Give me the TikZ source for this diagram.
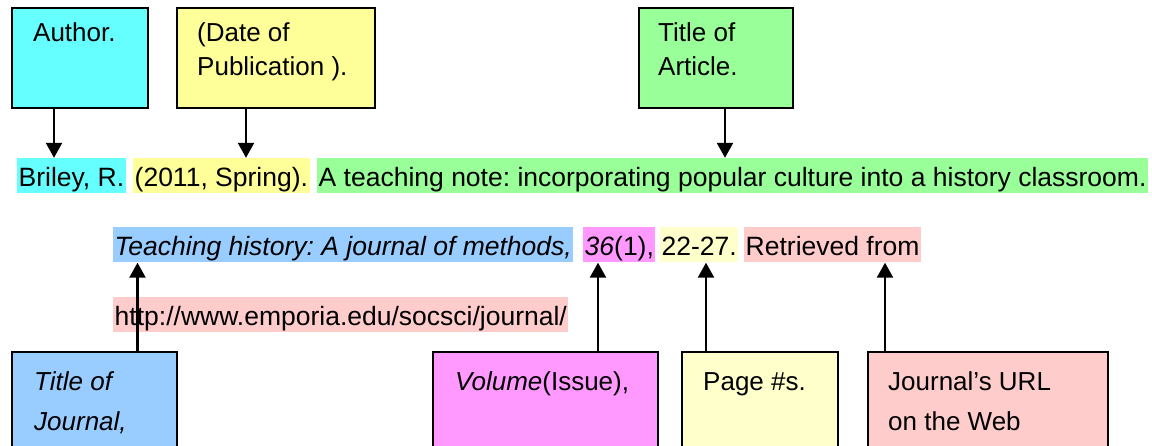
\documentclass[tikz,border=0pt]{standalone}
\usepackage{fontspec}
\setmainfont{Liberation Sans}
\usetikzlibrary{arrows.meta}
\definecolor{cCyan}{HTML}{66FFFF}
\definecolor{cYel}{HTML}{FFFF99}
\definecolor{cGreen}{HTML}{99FF99}
\definecolor{cBlue}{HTML}{99CCFF}
\definecolor{cMag}{HTML}{FF99FF}
\definecolor{cLY}{HTML}{FFFFCC}
\definecolor{cPink}{HTML}{FFCCCC}
\frenchspacing
\begin{document}
\begin{tikzpicture}[x=1pt,y=-1pt,
  box/.style={draw=black, line width=2pt, anchor=north west, inner sep=0},
  lbl/.style={anchor=base west, inner sep=0, align=left, font=\fontsize{26}{34}\selectfont},
  lblb/.style={anchor=base west, inner sep=0, align=left, font=\fontsize{26}{40}\selectfont},
  hl/.style={anchor=base west, inner xsep=1.5pt, inner ysep=0, text height=29pt, text depth=6.5pt, font=\fontsize{26.5}{30}\selectfont},
  arr/.style={line width=2.4pt, -{Triangle[width=16pt,length=15pt]}}]
\useasboundingbox (0,0) rectangle (1152,446);
\clip (0,0) rectangle (1152,446);
% top boxes
\node[box, fill=cCyan, minimum width=136pt, minimum height=100pt] (author) at (11,7) {};
\node[box, fill=cYel, minimum width=198pt, minimum height=100pt] (date) at (176,7) {};
\node[box, fill=cGreen, minimum width=154pt, minimum height=100pt] (title) at (638,7) {};
\node[lbl] (tA) at (33,42) {Author.};
\node[lbl] (tD) at (197,76) {(Date of\\Publication ).};
\node[lbl] (tT) at (658,76) {Title of\\Article.};
% bottom boxes
\node[box, fill=cBlue, minimum width=165pt, minimum height=120pt] (journal) at (11,351) {};
\node[box, fill=cMag, minimum width=225pt, minimum height=120pt] (volume) at (432,351) {};
\node[box, fill=cLY, minimum width=156pt, minimum height=120pt] (page) at (681,351) {};
\node[box, fill=cPink, minimum width=240pt, minimum height=120pt] (url) at (867,351) {};
\node[lblb] (tJ) at (34,431) {\textit{Title of}\\\textit{Journal,}};
\node[lblb] (tV) at (455,391) {\textit{Volume}(Issue),};
\node[lblb] (tP) at (703,391) {Page \#s.};
\node[lblb] (tU) at (888,431) {Journal’s URL\\on the Web};
% row 1
\node[hl, fill=cCyan] (r1a) at (17,187) {Briley, R.};
\node[hl, fill=cYel] (r1b) at (133,187) {(2011, Spring).};
\node[hl, fill=cGreen] (r1c) at (317,187) {A teaching note: incorporating popular culture into a history classroom.};
% row 2
\node[hl, fill=cBlue] (r2a) at (113,256) {\textit{Teaching history: A journal of methods,}};
\node[hl, fill=cMag] (r2b) at (583,256) {\textit{36}(1),};
\node[hl, fill=cLY] (r2c) at (660,256) {22-27.};
\node[hl, fill=cPink] (r2d) at (744,256) {Retrieved from};
% row 3
\node[hl, fill=cPink] (r3) at (113,326) {http://www.emporia.edu/socsci/journal/};
% arrows
\draw[arr] ([xshift=-26pt]author.south) -- ([xshift=-26pt]author.south |- r1a.north);
\draw[arr] ([xshift=-30pt]date.south) -- ([xshift=-30pt]date.south |- r1b.north);
\draw[arr] ([xshift=9pt]title.south) -- ([xshift=9pt]title.south |- r1c.north);
\draw[arr] ([xshift=43pt]journal.north) -- ([xshift=43pt]journal.north |- r2a.south);
\draw[arr] ([xshift=52.5pt]volume.north) -- ([xshift=52.5pt]volume.north |- r2b.south);
\draw[arr] ([xshift=-54pt]page.north) -- ([xshift=-54pt]page.north |- r2c.south);
\draw[arr] ([xshift=-103pt]url.north) -- ([xshift=-103pt]url.north |- r2d.south);
\end{tikzpicture}
\end{document}
